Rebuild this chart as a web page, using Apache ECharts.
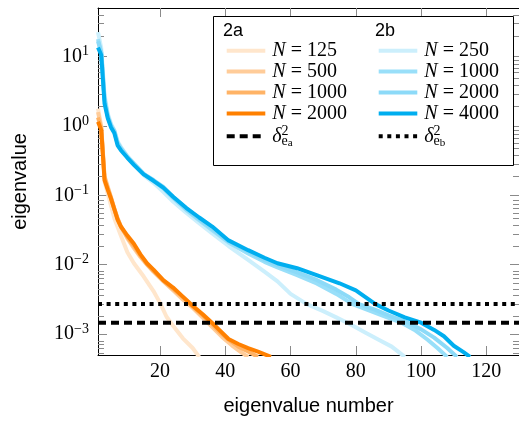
<!DOCTYPE html>
<html>
<head>
<meta charset="utf-8">
<script src="https://cdn.jsdelivr.net/npm/echarts@6/dist/echarts.min.js"></script>
<style>
html, body { margin: 0; padding: 0; background: #fff; }
#main { width: 519px; height: 421px; }
</style>
</head>
<body>
<div id="main"></div>
<script>
// eigenvalue number (x) and eigenvalue (y)

// 2a
var a125X = [1, 2, 3, 4, 5, 6, 8, 10, 12, 15, 18, 20, 22, 24, 27, 30, 32];
var a125Y = [1.78, 1.0, 0.158, 0.105, 0.0708, 0.0468, 0.0263, 0.0151, 0.0105, 0.00676, 0.00417, 0.00282, 0.00178, 0.00132, 0.00087, 0.00063, 0.00047];

var a500X = [1, 2, 3, 4, 5, 6, 7, 8, 10, 12, 14, 16, 18, 21, 24, 27, 30, 33, 36, 39, 42, 45, 47];
var a500Y = [1.58, 0.95, 0.19, 0.132, 0.0933, 0.0646, 0.0468, 0.0355, 0.024, 0.0174, 0.0129, 0.01, 0.00794, 0.00575, 0.00427, 0.00316, 0.0024, 0.00174, 0.00126, 0.00091, 0.00069, 0.00054, 0.00047];

var a1000X = [1, 2, 3, 4, 5, 6, 7, 8, 10, 12, 14, 16, 18, 21, 24, 27, 30, 33, 36, 38, 41, 44, 47, 50];
var a1000Y = [1.32, 0.91, 0.178, 0.126, 0.0912, 0.0631, 0.0457, 0.0355, 0.0251, 0.0186, 0.0135, 0.0102, 0.0081, 0.00589, 0.00447, 0.00339, 0.00251, 0.00186, 0.00138, 0.0011, 0.00083, 0.00066, 0.00056, 0.00047];

var a2000X = [1, 2, 3, 4, 5, 6, 7, 8, 10, 12, 14, 16, 18, 21, 24, 27, 30, 33, 36, 38, 41, 44, 47, 50, 54];
var a2000Y = [1.15, 0.87, 0.166, 0.12, 0.0891, 0.0631, 0.0447, 0.0355, 0.0263, 0.02, 0.0141, 0.0105, 0.0085, 0.006, 0.00468, 0.00347, 0.00257, 0.00195, 0.00145, 0.00117, 0.00085, 0.00072, 0.00063, 0.00056, 0.00047];

// 2b
var b250X = [1, 2, 3, 4, 5, 6, 7, 8, 10, 12, 15, 18, 21, 24, 28, 32, 36, 41, 47, 52, 56, 60, 65, 70, 74, 78, 83, 87, 91, 95];
var b250Y = [22.4, 13.2, 2.82, 1.51, 1.07, 0.87, 0.6, 0.5, 0.363, 0.275, 0.195, 0.151, 0.112, 0.0813, 0.0562, 0.0398, 0.0282, 0.0186, 0.0117, 0.00794, 0.00575, 0.0038, 0.0027, 0.00214, 0.00174, 0.00141, 0.00105, 0.00083, 0.00066, 0.00047];

var b1000X = [1, 2, 3, 4, 5, 6, 7, 8, 10, 12, 15, 18, 21, 24, 28, 32, 36, 41, 47, 52, 56, 62, 68, 74, 79, 84, 89, 94, 98, 102, 105, 108];
var b1000Y = [17.8, 11.5, 2.5, 1.41, 1.02, 0.85, 0.575, 0.48, 0.363, 0.288, 0.204, 0.162, 0.126, 0.0912, 0.0617, 0.0437, 0.0316, 0.0209, 0.0145, 0.011, 0.00912, 0.00708, 0.00537, 0.0038, 0.0027, 0.00219, 0.00178, 0.00146, 0.00115, 0.00083, 0.00063, 0.00047];

var b2000X = [1, 2, 3, 4, 5, 6, 7, 8, 10, 12, 15, 18, 21, 24, 28, 32, 36, 41, 47, 52, 56, 62, 68, 74, 78, 81, 86, 90, 96, 100, 104, 108, 111];
var b2000Y = [16.6, 11.2, 2.4, 1.35, 1.0, 0.83, 0.56, 0.468, 0.355, 0.282, 0.204, 0.166, 0.132, 0.0955, 0.0646, 0.0457, 0.0331, 0.0219, 0.0155, 0.0117, 0.0098, 0.00776, 0.00603, 0.00437, 0.00339, 0.0027, 0.00224, 0.00186, 0.00146, 0.00117, 0.00089, 0.00063, 0.00047];

var b4000X = [1, 2, 3, 4, 5, 6, 7, 8, 10, 12, 15, 18, 21, 24, 28, 32, 36, 41, 47, 52, 56, 62, 68, 75, 80, 86, 90, 95, 100, 104, 107, 110, 113, 115];
var b4000Y = [13.5, 10.5, 2.1, 1.29, 0.95, 0.79, 0.525, 0.447, 0.347, 0.275, 0.2, 0.162, 0.129, 0.0955, 0.066, 0.0479, 0.0355, 0.0224, 0.0162, 0.0126, 0.0105, 0.0089, 0.0071, 0.0054, 0.00427, 0.0027, 0.00219, 0.00174, 0.00146, 0.00115, 0.00093, 0.00068, 0.00055, 0.00047];

// error levels
var deltaA = 1.46e-3;
var deltaB = 2.72e-3;

var xTicks = [20, 40, 60, 80, 100, 120];
var yTicks = [1e-3, 1e-2, 1e-1, 1, 10];
var yMinor = [6e-4, 7e-4, 8e-4, 9e-4,
  2e-3, 3e-3, 4e-3, 5e-3, 6e-3, 7e-3, 8e-3, 9e-3,
  2e-2, 3e-2, 4e-2, 5e-2, 6e-2, 7e-2, 8e-2, 9e-2,
  0.2, 0.3, 0.4, 0.5, 0.6, 0.7, 0.8, 0.9,
  2, 3, 4, 5, 6, 7, 8, 9, 20, 30, 40];

var X_MIN = 1, X_MAX = 130, Y_MIN = 5e-4, Y_MAX = 50;

var orange = ['#ffe6cc', '#ffcc99', '#ffb366', '#ff8000'];
var blue = ['#cceffc', '#99dff9', '#8cdaf8', '#00aeef'];
var tickGrey = '#8a8a8a';

function pts(xs, ys) {
  return xs.map(function (x, i) { return [x, ys[i]]; });
}

function curve(name, xs, ys, color) {
  return {
    name: name,
    type: 'line',
    data: pts(xs, ys),
    symbol: 'none',
    lineStyle: { color: color, width: 4, join: 'round' },
    itemStyle: { color: color },
    animation: false
  };
}

function refLine(name, y, dash) {
  return {
    name: name,
    type: 'line',
    data: [[X_MIN, y], [X_MAX, y]],
    symbol: 'none',
    lineStyle: { color: '#000', width: 4, type: dash, cap: 'butt' },
    itemStyle: { color: '#000' },
    animation: false,
    z: 3
  };
}

var legendText = {
  'a125': '{i|N}{r| = 125}',
  'a500': '{i|N}{r| = 500}',
  'a1000': '{i|N}{r| = 1000}',
  'a2000': '{i|N}{r| = 2000}',
  'b250': '{i|N}{r| = 250}',
  'b1000': '{i|N}{r| = 1000}',
  'b2000': '{i|N}{r| = 2000}',
  'b4000': '{i|N}{r| = 4000}',
  'da': '{d|δ}{p|2}{e|e}{s|a}',
  'db': '{d|δ}{p|2}{e|e}{s|b}'
};

var serif = 'Liberation Serif';
var sans = 'Liberation Sans';

var legendRich = {
  i: { fontFamily: serif, fontStyle: 'italic', fontSize: 20, lineHeight: 24, color: '#000' },
  r: { fontFamily: serif, fontSize: 20, lineHeight: 24, color: '#000' },
  d: { fontFamily: serif, fontStyle: 'italic', fontSize: 20, lineHeight: 24, color: '#000' },
  p: { fontFamily: serif, fontSize: 14, lineHeight: 14, verticalAlign: 'top', width: 0.01, color: '#000' },
  e: { fontFamily: serif, fontSize: 14, lineHeight: 14, verticalAlign: 'bottom', color: '#000' },
  s: { fontFamily: serif, fontSize: 11, lineHeight: 11, verticalAlign: 'bottom', color: '#000' }
};

function makeLegend(left, names) {
  return {
    orient: 'vertical',
    left: left,
    top: 40.7,
    padding: 0,
    z: 20,
    itemWidth: 38.6,
    itemHeight: 24,
    itemGap: 0.9,
    selectedMode: false,
    data: names,
    lineStyle: { width: 4 },
    itemStyle: { opacity: 0, borderWidth: 0 },
    formatter: function (n) { return legendText[n]; },
    textStyle: { padding: [0, 0, 0, 2], rich: legendRich }
  };
}

function yLabel(v) {
  var e = Math.round(Math.log10(v));
  return '{b|10}{s|' + (e < 0 ? '\u2212' + (-e) : e) + '}';
}

var chart = echarts.init(document.getElementById('main'), null, { renderer: 'canvas' });

var gridBox = { left: 98, top: 8, width: 424, height: 351 };

var option = {
  animation: false,
  backgroundColor: '#fff',
  grid: [
    Object.assign({}, gridBox),
    Object.assign({}, gridBox)
  ],
  xAxis: [
    {
      type: 'value', gridIndex: 0, position: 'bottom', min: X_MIN, max: X_MAX,
      name: 'eigenvalue number', nameLocation: 'middle', nameGap: 41,
      nameTextStyle: { fontFamily: sans, fontSize: 20, color: '#000' },
      axisLine: { lineStyle: { color: '#000', width: 1 } },
      axisTick: { inside: true, length: 9, customValues: xTicks, lineStyle: { color: tickGrey, width: 1 } },
      axisLabel: { customValues: xTicks, margin: 7, fontFamily: serif, fontSize: 20, color: '#000' },
      splitLine: { show: false }
    },
    {
      type: 'value', gridIndex: 0, position: 'top', min: X_MIN, max: X_MAX,
      axisLine: { lineStyle: { color: '#000', width: 1 } },
      axisTick: { inside: true, length: 9, customValues: xTicks, lineStyle: { color: tickGrey, width: 1 } },
      axisLabel: { show: false },
      splitLine: { show: false }
    },
    {
      type: 'value', gridIndex: 1, min: X_MIN, max: X_MAX, show: false
    }
  ],
  yAxis: [
    {
      type: 'log', logBase: 10, gridIndex: 0, position: 'left', min: Y_MIN, max: Y_MAX,
      name: 'eigenvalue', nameLocation: 'middle', nameGap: 68, nameRotate: 90,
      nameTextStyle: { fontFamily: sans, fontSize: 20, color: '#000' },
      axisLine: { lineStyle: { color: '#000', width: 1 } },
      axisTick: { inside: true, length: 9, customValues: yTicks, lineStyle: { color: tickGrey, width: 1 } },
      axisLabel: {
        customValues: yTicks, margin: 9, formatter: yLabel,
        rich: {
          b: { fontFamily: serif, fontSize: 20, lineHeight: 24, color: '#000' },
          s: { fontFamily: serif, fontSize: 14, lineHeight: 14, verticalAlign: 'top', color: '#000' }
        }
      },
      splitLine: { show: false }
    },
    {
      type: 'log', logBase: 10, gridIndex: 0, position: 'right', min: Y_MIN, max: Y_MAX,
      axisLine: { lineStyle: { color: '#000', width: 1 } },
      axisTick: { inside: true, length: 9, customValues: yTicks, lineStyle: { color: tickGrey, width: 1 } },
      axisLabel: { show: false },
      splitLine: { show: false }
    },
    {
      type: 'log', logBase: 10, gridIndex: 1, position: 'left', min: Y_MIN, max: Y_MAX,
      axisLine: { show: false },
      axisTick: { inside: true, length: 6, customValues: yMinor, lineStyle: { color: tickGrey, width: 1 } },
      axisLabel: { show: false },
      splitLine: { show: false }
    },
    {
      type: 'log', logBase: 10, gridIndex: 1, position: 'right', min: Y_MIN, max: Y_MAX,
      axisLine: { show: false },
      axisTick: { inside: true, length: 6, customValues: yMinor, lineStyle: { color: tickGrey, width: 1 } },
      axisLabel: { show: false },
      splitLine: { show: false }
    }
  ],
  legend: [
    makeLegend(224.7, ['a125', 'a500', 'a1000', 'a2000', 'da']),
    makeLegend(376.7, ['b250', 'b1000', 'b2000', 'b4000', 'db'])
  ],
  graphic: [
    {
      type: 'rect', z: 10,
      shape: { x: 213.5, y: 16.5, width: 300, height: 149 },
      style: { fill: '#fff', stroke: '#000', lineWidth: 1 }
    },
    {
      type: 'text', left: 223, top: 22, z: 21,
      style: { text: '2a', fontFamily: sans, fontSize: 18, fill: '#000' }
    },
    {
      type: 'text', left: 375, top: 22, z: 21,
      style: { text: '2b', fontFamily: sans, fontSize: 18, fill: '#000' }
    }
  ],
  series: [
    curve('a125', a125X, a125Y, orange[0]),
    curve('a500', a500X, a500Y, orange[1]),
    curve('a1000', a1000X, a1000Y, orange[2]),
    curve('a2000', a2000X, a2000Y, orange[3]),
    curve('b250', b250X, b250Y, blue[0]),
    curve('b1000', b1000X, b1000Y, blue[1]),
    curve('b2000', b2000X, b2000Y, blue[2]),
    curve('b4000', b4000X, b4000Y, blue[3]),
    refLine('da', deltaA, [8, 5]),
    refLine('db', deltaB, [4, 4.6])
  ]
};

chart.setOption(option);
</script>
</body>
</html>
